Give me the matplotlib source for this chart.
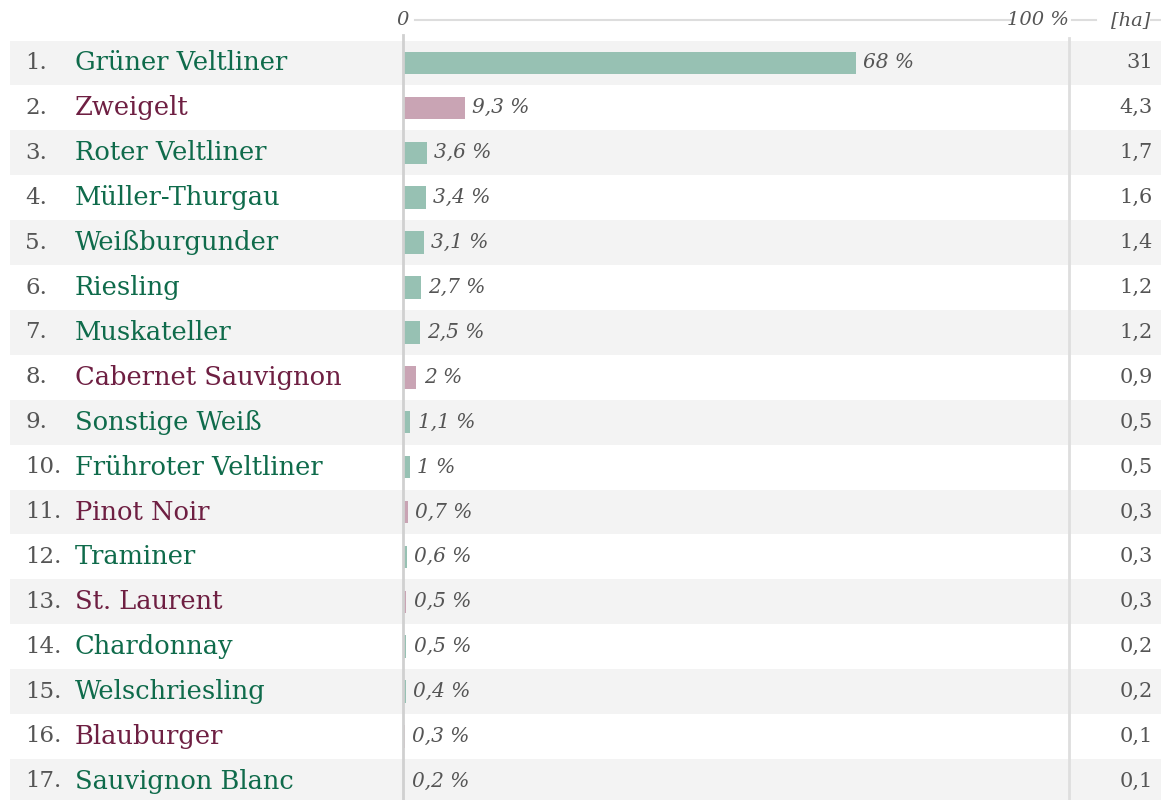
import matplotlib
matplotlib.use("Agg")
import matplotlib.pyplot as plt
import matplotlib.transforms as mtransforms

names = ["Grüner Veltliner", "Zweigelt", "Roter Veltliner", "Müller-Thurgau",
         "Weißburgunder", "Riesling", "Muskateller", "Cabernet Sauvignon",
         "Sonstige Weiß", "Frühroter Veltliner", "Pinot Noir", "Traminer",
         "St. Laurent", "Chardonnay", "Welschriesling", "Blauburger",
         "Sauvignon Blanc"]
kind = ["w", "r", "w", "w", "w", "w", "w", "r", "w", "w", "r", "w", "r",
        "w", "w", "r", "w"]
share = [68, 9.3, 3.6, 3.4, 3.1, 2.7, 2.5, 2, 1.1, 1, 0.7, 0.6, 0.5, 0.5,
         0.4, 0.3, 0.2]
hectares = ["31", "4,3", "1,7", "1,6", "1,4", "1,2", "1,2", "0,9", "0,5",
            "0,5", "0,3", "0,3", "0,3", "0,2", "0,2", "0,1", "0,1"]

W, H = 1161, 800
text_col = {"w": "#0f6b4b", "r": "#6e1f42"}
bar_col = {"w": "#97c1b3", "r": "#c9a4b4"}
grey = "#555555"

fig = plt.figure(figsize=(W / 100, H / 100), dpi=100)
ax = fig.add_axes([0, 0, 1, 1])
px = 6.66  # pixels per percent
x0 = 403
ax.set_xlim(-x0 / px, (W - x0) / px)
row0, step = 63, 44.9
ax.set_ylim((H - row0) / step, -row0 / step)
ax.axis("off")

def fx(p):
    return p / W

tr = mtransforms.blended_transform_factory(fig.transFigure, ax.transData)

n = len(names)
for i in range(n):
    if i % 2 == 0:
        ax.axhspan(i - 0.5, i + 0.5, xmin=fx(10), xmax=1, color="#f3f3f3",
                   lw=0, zorder=0)

ax.barh(range(n), share, height=0.5, color=[bar_col[k] for k in kind],
        zorder=2)

fmt = lambda v: (("%g" % v).replace(".", ",")) + " %"
for i in range(n):
    ax.text(fx(25), i, "%d." % (i + 1), transform=tr, color=grey,
            fontsize=16.5, family="DejaVu Serif", va="center", ha="left")
    ax.text(fx(75), i, names[i], transform=tr, color=text_col[kind[i]],
            fontsize=18.5, family="DejaVu Serif", va="center", ha="left")
    ax.text(share[i] + 1.1, i, fmt(share[i]), color=grey, fontsize=14.5,
            family="DejaVu Serif", style="italic", va="center", ha="left",
            zorder=3)
    ax.text(fx(1153), i, hectares[i], transform=tr, color=grey,
            fontsize=15, family="DejaVu Serif", va="center", ha="right")

# vertical guides
ax.plot([0, 0], [-0.62, n], color="#d0d0d0", lw=2, zorder=3)
ax.plot([100, 100], [-0.55, n], color="#dedede", lw=2, zorder=1)

# header
hy = -row0 / step + 20 / step
ax.text(0, hy, "0", color=grey, fontsize=14, family="DejaVu Serif",
        style="italic", va="center", ha="center")
ax.plot([1.8, 91.5], [hy, hy], color="#dddddd", lw=1.5)
ax.text(100, hy, "100 %", color=grey, fontsize=14, family="DejaVu Serif",
        style="italic", va="center", ha="right")
ax.plot([100.5, 104], [hy, hy], color="#dddddd", lw=1.5)
ax.text(fx(1150), hy, "[ha]", transform=tr, color=grey, fontsize=14,
        family="DejaVu Serif", style="italic", va="center", ha="right")
ax.plot([112.3, 114], [hy, hy], color="#dddddd", lw=1.5)

fig.savefig("out.png", dpi=100)
